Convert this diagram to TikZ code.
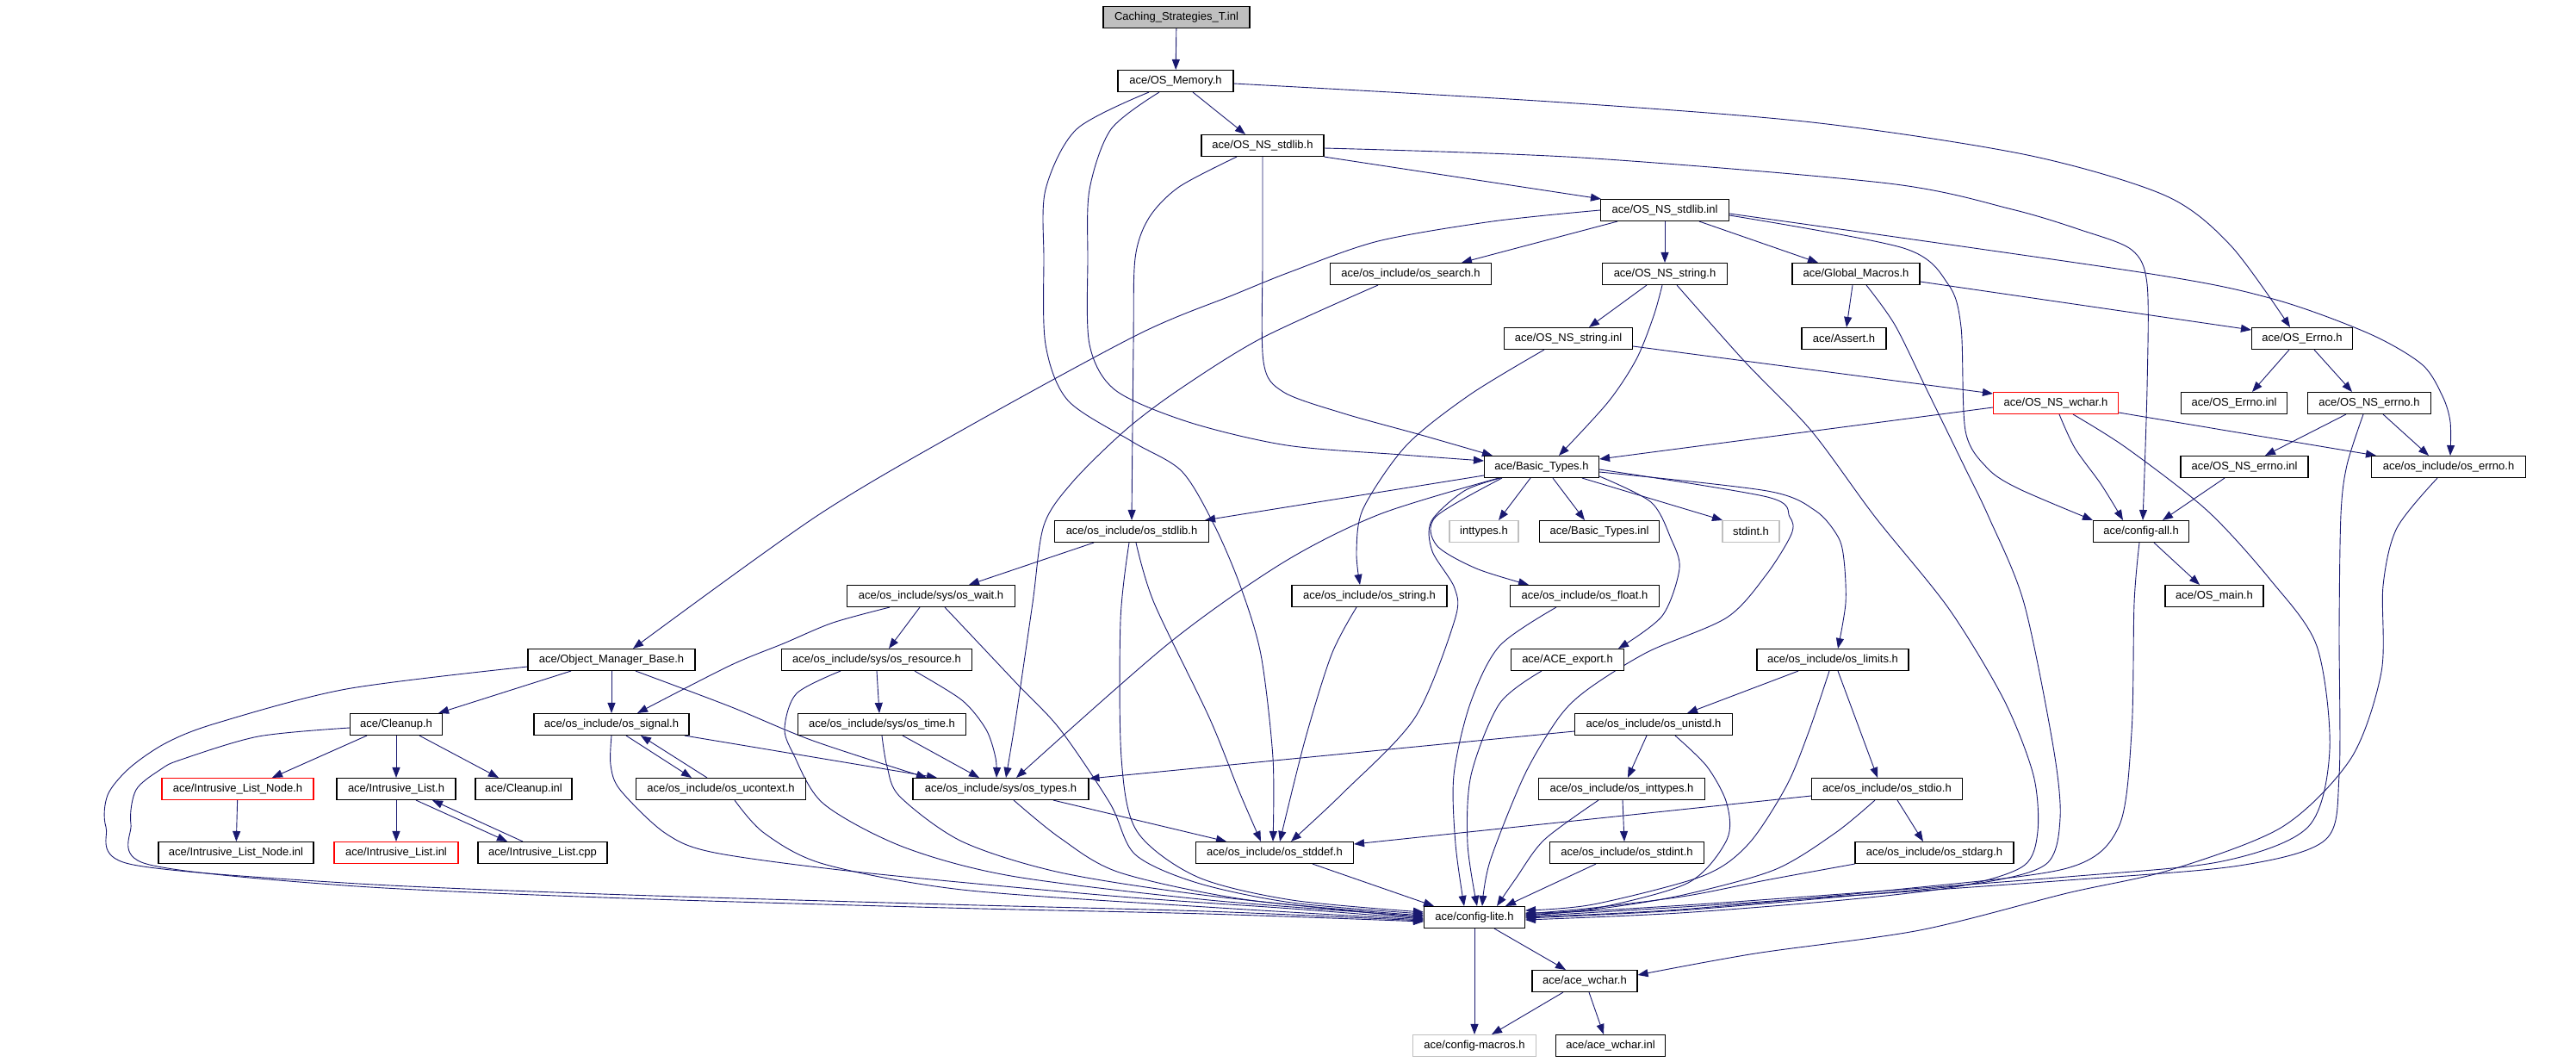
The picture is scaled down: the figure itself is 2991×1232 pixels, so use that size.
\documentclass[tikz,border=0pt]{standalone}
\usepackage{fontspec}
\setmainfont{Liberation Sans}
\usetikzlibrary{arrows.meta}
\definecolor{edgecol}{HTML}{191970}
\definecolor{boxgray}{HTML}{BFBFBF}
\pgfdeclarelayer{back}
\pgfdeclarelayer{lines}
\pgfsetlayers{back,lines,main}
\begin{document}
\begin{tikzpicture}[x=1pt,y=-1pt,
  box/.style={draw=black,fill=white,line width=1.1pt,minimum height=25pt,inner sep=0pt,font=\fontsize{13}{15}\selectfont,text=black},
  redbox/.style={box,draw=red},
  graynode/.style={box,draw=boxgray},
  rootbox/.style={box,fill=boxgray},
  conn/.style={draw=edgecol,line width=0.9pt,-{Triangle[length=12pt,width=9pt]}},
]
\begin{pgfonlayer}{back}
\fill[white] (0,0) rectangle (2991,1232);
\end{pgfonlayer}
\useasboundingbox (0,0) rectangle (2991,1232);

% ---------------- nodes
\node[rootbox,minimum width=170pt] (cach) at (1366,20) {Caching\_Strategies\_T.inl};
\node[box,minimum width=134pt] (mem) at (1365,94) {ace/OS\_Memory.h};
\node[box,minimum width=142pt] (nsstdlibh) at (1466,169) {ace/OS\_NS\_stdlib.h};
\node[box,minimum width=149pt] (nsstdlibinl) at (1933,244) {ace/OS\_NS\_stdlib.inl};
\node[box,minimum width=187pt] (search) at (1638,318) {ace/os\_include/os\_search.h};
\node[box,minimum width=145pt] (nsstringh) at (1933,318) {ace/OS\_NS\_string.h};
\node[box,minimum width=148pt] (glob) at (2155,318) {ace/Global\_Macros.h};
\node[box,minimum width=149pt] (nsstringinl) at (1821,393) {ace/OS\_NS\_string.inl};
\node[box,minimum width=98pt] (assert) at (2141,393) {ace/Assert.h};
\node[box,minimum width=117pt] (errnoh) at (2673,393) {ace/OS\_Errno.h};
\node[redbox,minimum width=145pt] (nswchar) at (2387,468) {ace/OS\_NS\_wchar.h};
\node[box,minimum width=123pt] (errnoinl) at (2594,468) {ace/OS\_Errno.inl};
\node[box,minimum width=143pt] (nserrnoh) at (2751,468) {ace/OS\_NS\_errno.h};
\node[box,minimum width=148pt] (nserrnoinl) at (2606,542) {ace/OS\_NS\_errno.inl};
\node[box,minimum width=179pt] (oserrno) at (2843,542) {ace/os\_include/os\_errno.h};
\node[box,minimum width=133pt] (basic) at (1790,542) {ace/Basic\_Types.h};
\node[box,minimum width=111pt] (configall) at (2486,617) {ace/config-all.h};
\node[box,minimum width=114pt] (osmain) at (2571,692) {ace/OS\_main.h};
\node[graynode,minimum width=80pt] (inttypes) at (1723,617) {inttypes.h};
\node[box,minimum width=139pt] (basicinl) at (1857,617) {ace/Basic\_Types.inl};
\node[graynode,minimum width=66pt] (stdint) at (2033,617) {stdint.h};
\node[box,minimum width=179pt] (osstdlib) at (1314,617) {ace/os\_include/os\_stdlib.h};
\node[box,minimum width=195pt] (wait) at (1081,692) {ace/os\_include/sys/os\_wait.h};
\node[box,minimum width=180pt] (osstring) at (1590,692) {ace/os\_include/os\_string.h};
\node[box,minimum width=173pt] (osfloat) at (1840,692) {ace/os\_include/os\_float.h};
\node[box,minimum width=194pt] (omb) at (710,766) {ace/Object\_Manager\_Base.h};
\node[box,minimum width=221pt] (resource) at (1018,766) {ace/os\_include/sys/os\_resource.h};
\node[box,minimum width=131pt] (export) at (1820,766) {ace/ACE\_export.h};
\node[box,minimum width=176pt] (limits) at (2128,766) {ace/os\_include/os\_limits.h};
\node[box,minimum width=107pt] (cleanup) at (460,841) {ace/Cleanup.h};
\node[box,minimum width=180pt] (signal) at (710,841) {ace/os\_include/os\_signal.h};
\node[box,minimum width=195pt] (ostime) at (1024,841) {ace/os\_include/sys/os\_time.h};
\node[box,minimum width=183pt] (unistd) at (1920,841) {ace/os\_include/os\_unistd.h};
\node[redbox,minimum width=176pt] (ilnodeh) at (276,916) {ace/Intrusive\_List\_Node.h};
\node[box,minimum width=138pt] (ilh) at (460,916) {ace/Intrusive\_List.h};
\node[box,minimum width=112pt] (cleanupinl) at (608,916) {ace/Cleanup.inl};
\node[box,minimum width=197pt] (ucontext) at (837,916) {ace/os\_include/os\_ucontext.h};
\node[box,minimum width=204pt] (types) at (1162,916) {ace/os\_include/sys/os\_types.h};
\node[box,minimum width=193pt] (inttypesos) at (1883,916) {ace/os\_include/os\_inttypes.h};
\node[box,minimum width=175pt] (stdio) at (2191,916) {ace/os\_include/os\_stdio.h};
\node[box,minimum width=180pt] (ilnodeinl) at (274,990) {ace/Intrusive\_List\_Node.inl};
\node[redbox,minimum width=144pt] (ilinl) at (460,990) {ace/Intrusive\_List.inl};
\node[box,minimum width=150pt] (ilcpp) at (630,990) {ace/Intrusive\_List.cpp};
\node[box,minimum width=183pt] (stddef) at (1480,990) {ace/os\_include/os\_stddef.h};
\node[box,minimum width=179pt] (stdintos) at (1889,990) {ace/os\_include/os\_stdint.h};
\node[box,minimum width=184pt] (stdarg) at (2246,990) {ace/os\_include/os\_stdarg.h};
\node[box,minimum width=117pt] (lite) at (1712,1065) {ace/config-lite.h};
\node[box,minimum width=122pt] (wchar) at (1840,1139) {ace/ace\_wchar.h};
\node[graynode,minimum width=143pt] (macros) at (1712,1214) {ace/config-macros.h};
\node[box,minimum width=127pt] (wcharinl) at (1870,1214) {ace/ace\_wchar.inl};

% ---------------- connectors
\begin{pgfonlayer}{lines}
\draw[conn] (cach) -- (mem);
\draw[conn] ([xshift=20pt]mem.south) -- ([xshift=-20pt]nsstdlibh.north);
\draw[conn] plot[smooth] coordinates {([yshift=-3pt]mem.east) (1800,118) (2104,142) (2354,180) (2514,227) (2590,285) ([xshift=-14pt]errnoh.north)};
\draw[conn] plot[smooth] coordinates {([xshift=-19pt]mem.south) (1290,150) (1265,220) (1263,300) (1265,400) (1295,453) (1380,490) (1494,517) (1628,528) ([yshift=7pt]basic.west)};
\draw[conn] plot[smooth] coordinates {([xshift=-31pt]mem.south) (1250,150) (1214,220) (1212,300) (1214,400) (1240,465) (1315,513) (1372,547) (1410,610) (1440,680) (1464,760) (1478,880) ([xshift=-2pt]stddef.north)};

\draw[conn] (nsstdlibh.south east) -- ([xshift=1pt]nsstdlibinl.north west);
\draw[conn] plot[smooth] coordinates {([yshift=-3pt]nsstdlibh.east) (1836,183) (2193,213) (2336,243) (2416,267) (2475,290) (2493,330) (2493,450) ([xshift=2pt]configall.north)};
\draw[conn] plot[smooth] coordinates {(nsstdlibh.south) (1466,300) (1467,420) (1490,455) (1560,480) (1650,505) ([xshift=-57pt]basic.north)};
\draw[conn] plot[smooth] coordinates {([xshift=-30pt]nsstdlibh.south) (1369,217) (1334,253) (1318,300) (1316,400) (osstdlib.north)};

\draw[conn] plot[smooth] coordinates {(nsstdlibinl.west) (1733,257) (1600,280) (1500,315) (1433,342) (1322,388) (1116,500) (947,600) ([xshift=25pt]omb.north)};
\draw[conn] ([xshift=-55pt]nsstdlibinl.south) -- ([xshift=59pt]search.north);
\draw[conn] (nsstdlibinl) -- (nsstringh);
\draw[conn] ([xshift=40pt]nsstdlibinl.south) -- ([xshift=-44pt]glob.north);
\draw[conn] plot[smooth] coordinates {([yshift=-6pt]nsstdlibinl.east) (2210,288) (2262,330) (2277,380) (2282,500) (2307,543) (2343,567) (configall.north west)};
\draw[conn] plot[smooth] coordinates {([yshift=-4pt]nsstdlibinl.east) (2491,317) (2639,347) (2750,387) (2812,423) (2836,460) (2845,490) ([xshift=2pt]oserrno.north)};

\draw[conn] ([xshift=-4pt]glob.south) -- ([xshift=3pt]assert.north);
\draw[conn] ([yshift=-9pt]glob.east) -- ([yshift=10pt]errnoh.west);
\draw[conn] plot[smooth] coordinates {([xshift=12pt]glob.south) (2200,377) (2236,450) (2280,540) (2309,600) (2350,700) (2384,867) (2392,950) (2376,1003) (2300,1025) (2150,1040) (1950,1057) ([yshift=-1pt]lite.east)};
\draw[conn] plot[smooth] coordinates {([xshift=14pt]nsstringh.south) (2026,420) (2103,500) (2177,600) (2263,707) (2327,813) (2361,900) (2366,965) (2350,1005) (2280,1028) (2150,1044) (1950,1060) ([yshift=-3pt]lite.east)};

\draw[conn] ([xshift=-15pt]errnoh.south) -- ([xshift=21pt]errnoinl.north);
\draw[conn] ([xshift=14pt]errnoh.south) -- ([xshift=-20pt]nserrnoh.north);
\draw[conn] ([xshift=-27pt]nserrnoh.south) -- ([xshift=24pt]nserrnoinl.north);
\draw[conn] ([xshift=16pt]nserrnoh.south) -- ([xshift=-23pt]oserrno.north);
\draw[conn] plot[smooth] coordinates {([xshift=-7pt]nserrnoh.south) (2725,540) (2718,597) (2716,730) (2716,900) (2700,975) (2600,1005) (2400,1022) (2000,1050) ([yshift=1pt]lite.east)};
\draw[conn] ([xshift=-23pt]nserrnoinl.south) -- ([xshift=25pt]configall.north);
\draw[conn] ([xshift=15pt]configall.south) -- ([xshift=-17pt]osmain.north);
\draw[conn] plot[smooth] coordinates {([xshift=-2pt]configall.south) (2478,700) (2475,850) (2460,960) (2400,1008) (2200,1033) (1950,1056) ([yshift=0pt]lite.east)};

\draw[conn] ([yshift=-5pt]nswchar.west) -- ([yshift=9pt]basic.east);
\draw[conn] ([yshift=-9pt]nsstringinl.east) -- ([yshift=11pt]nswchar.west);
\draw[conn] plot[smooth] coordinates {([xshift=4pt]nswchar.south) (2409,520) (2440,563) ([xshift=-21pt]configall.north)};
\draw[conn] ([yshift=-11pt]nswchar.east) -- ([xshift=-84pt]oserrno.north);
\draw[conn] plot[smooth] coordinates {([xshift=20pt]nswchar.south) (2469,520) (2563,593) (2636,673) (2690,750) (2705,870) (2680,960) (2580,1000) (2400,1018) (2000,1048) ([yshift=3pt]lite.east)};
\draw[conn] plot[smooth] coordinates {([xshift=-13pt]oserrno.south) (2783,613) (2767,680) (2765,780) (2730,880) (2650,960) (2520,1010) (2400,1037) (2229,1080) (2038,1107) ([yshift=7pt]wchar.east)};

\draw[conn] ([xshift=-13pt]basic.south) -- ([xshift=17pt]inttypes.north);
\draw[conn] ([xshift=13pt]basic.south) -- ([xshift=-17pt]basicinl.north);
\draw[conn] ([xshift=47pt]basic.south) -- ([xshift=-33pt]stdint.north);
\draw[conn] ([yshift=-10pt]basic.west) -- ([xshift=-5pt]osstdlib.north east);
\draw[conn] plot[smooth] coordinates {([xshift=-50pt]basic.south) (1602,597) (1490,653) (1357,747) ([xshift=18pt]types.north)};
\draw[conn] plot[smooth] coordinates {([xshift=-48pt]basic.south) (1700,570) (1662,605) (1663,640) (1689,683) (1689,720) (1643,833) (1560,920) ([xshift=19pt]stddef.north)};
\draw[conn] plot[smooth] coordinates {([xshift=-46pt]basic.south) (1667,600) (1668,633) (1714,660) ([xshift=-65pt]osfloat.north)};
\draw[conn] plot[smooth] coordinates {([yshift=-11pt]basic.east) (1917,583) (1940,625) (1950,660) (1930,715) ([xshift=59pt]export.north)};
\draw[conn] plot[smooth] coordinates {([yshift=-6pt]basic.east) (2052,570) (2108,593) (2134,623) (2141,650) (2143,700) ([xshift=6pt]limits.north)};
\draw[conn] plot[smooth] coordinates {([yshift=-3pt]basic.east) (2052,577) (2078,600) (2080,620) (2051,667) (2005,717) (1913,757) (1844,800) (1810,833) (1770,900) (1730,1000) ([xshift=9pt]lite.north)};

\draw[conn] ([xshift=-44pt]osstdlib.south) -- ([xshift=44pt]wait.north);
\draw[conn] plot[smooth] coordinates {([xshift=5pt]osstdlib.south) (1340,700) (1404,833) (1438,917) ([xshift=-16pt]stddef.north)};
\draw[conn] plot[smooth] coordinates {([xshift=-3pt]osstdlib.south) (1301,720) (1302,880) (1320,965) (1390,1018) (1500,1045) ([yshift=6pt]lite.west)};

\draw[conn] ([xshift=-13pt]wait.south) -- ([xshift=14pt]resource.north);
\draw[conn] plot[smooth] coordinates {([xshift=-48pt]wait.south) (967,723) (910,747) (847,773) ([xshift=30pt]signal.north)};
\draw[conn] plot[smooth] coordinates {([xshift=16pt]wait.south) (1180,793) (1231,847) (1289,933) (1318,992) (1390,1025) (1500,1048) ([yshift=4pt]lite.west)};

\draw[conn] (resource.south) -- ([xshift=-3pt]ostime.north);
\draw[conn] plot[smooth] coordinates {([xshift=44pt]resource.south) (1117,813) (1145,847) (1156,880) ([xshift=-5pt]types.north)};
\draw[conn] plot[smooth] coordinates {([xshift=-42pt]resource.south) (925,805) (911,845) (921,875) (956,933) (1048,983) (1174,1017) (1404,1045) ([yshift=1pt]lite.west)};

\draw[conn] ([xshift=24pt]ostime.south) -- ([xshift=-25pt]types.north);
\draw[conn] plot[smooth] coordinates {(ostime.south) (1030,890) (1045,925) (1117,977) (1231,1013) (1404,1040) ([yshift=-1pt]lite.west)};

\draw[conn] ([xshift=61pt]types.south) -- ([xshift=-56pt]stddef.north);
\draw[conn] plot[smooth] coordinates {([xshift=15pt]types.south) (1231,973) (1300,1013) (1450,1045) ([yshift=2pt]lite.west)};

\draw[conn] ([xshift=17pt]signal.south) -- ([xshift=-34pt]ucontext.north);
\draw[conn] ([xshift=-16pt]ucontext.north) -- ([xshift=34pt]signal.south);
\draw[conn] ([xshift=85pt]signal.south) -- ([xshift=-74pt]types.north);
\draw[conn] plot[smooth] coordinates {(signal.south) (709,888) (720,917) (772,967) (830,990) (1002,1013) (1289,1040) (1500,1055) ([yshift=-2pt]lite.west)};
\draw[conn] plot[smooth] coordinates {([xshift=16pt]ucontext.south) (887,967) (956,1003) (1117,1033) (1400,1053) ([yshift=-3pt]lite.west)};

\draw[conn] ([xshift=-47pt]omb.south) -- ([xshift=-5pt]cleanup.north east);
\draw[conn] (omb) -- (signal);
\draw[conn] plot[smooth] coordinates {([xshift=28pt]omb.south) (847,820) (944,860) ([xshift=-86pt]types.north)};
\draw[conn] plot[smooth] coordinates {([yshift=-8pt]omb.west) (402,800) (250,840) (192,863) (150,892) (125,923) (123,960) (150,1003) (400,1025) (700,1038) (1100,1050) (1400,1058) ([yshift=-4pt]lite.west)};
\draw[conn] plot[smooth] coordinates {([yshift=-4pt]cleanup.west) (300,855) (210,882) (187,893) (158,917) (152,957) (170,1003) (400,1028) (700,1042) (1100,1054) (1400,1061) ([yshift=-5pt]lite.west)};

\draw[conn] ([xshift=-34pt]cleanup.south) -- ([xshift=40pt]ilnodeh.north);
\draw[conn] (cleanup) -- (ilh);
\draw[conn] ([xshift=27pt]cleanup.south) -- ([xshift=-29pt]cleanupinl.north);
\draw[conn] (ilnodeh) -- (ilnodeinl);
\draw[conn] (ilh) -- (ilinl);
\draw[conn] ([xshift=23pt]ilh.south) -- ([xshift=-41pt]ilcpp.north);
\draw[conn] ([xshift=-23pt]ilcpp.north) -- ([xshift=42pt]ilh.south);

\draw[conn] plot[smooth] coordinates {([xshift=-38pt]search.south) (1464,393) (1368,453) (1306,500) (1245,560) (1212,610) (1199,700) (1180,830) ([xshift=6pt]types.north)};

\draw[conn] ([xshift=-21pt]nsstringh.south) -- ([xshift=24pt]nsstringinl.north);
\draw[conn] plot[smooth] coordinates {([xshift=-3pt]nsstringh.south) (1920,367) (1900,417) (1867,467) ([xshift=20pt]basic.north)};
\draw[conn] plot[smooth] coordinates {([xshift=-28pt]nsstringinl.south) (1707,458) (1633,517) (1583,590) (1575,640) ([xshift=-11pt]osstring.north)};
\draw[conn] plot[smooth] coordinates {([xshift=-15pt]osstring.south) (1546,760) (1515,860) ([xshift=6pt]stddef.north)};

\draw[conn] plot[smooth] coordinates {([xshift=-33pt]osfloat.south) (1741,750) (1707,817) (1688,900) (1690,980) ([xshift=-12pt]lite.north)};
\draw[conn] plot[smooth] coordinates {([xshift=-30pt]export.south) (1741,817) (1708,900) (1704,980) ([xshift=3pt]lite.north)};

\draw[conn] ([xshift=-40pt]limits.south) -- ([xshift=39pt]unistd.north);
\draw[conn] ([xshift=6pt]limits.south) -- ([xshift=-11pt]stdio.north);
\draw[conn] plot[smooth] coordinates {([xshift=-4pt]limits.south) (2100,850) (2074,913) (2030,980) (1977,1017) (1850,1050) ([yshift=8pt]lite.east)};

\draw[conn] ([yshift=-8pt]unistd.west) -- ([yshift=12pt]types.east);
\draw[conn] ([xshift=-8pt]unistd.south) -- ([xshift=7pt]inttypesos.north);
\draw[conn] plot[smooth] coordinates {([xshift=25pt]unistd.south) (1982,890) (2005,933) (2005,975) (1960,1025) (1850,1055) ([yshift=5pt]lite.east)};

\draw[conn] ([xshift=1pt]inttypesos.south) -- ([xshift=-3pt]stdintos.north);
\draw[conn] plot[smooth] coordinates {([xshift=-27pt]inttypesos.south) (1793,975) (1760,1020) ([xshift=26pt]lite.north)};
\draw[conn] ([xshift=-36pt]stdintos.south) -- ([xshift=36pt]lite.north);
\draw[conn] ([xshift=44pt]stddef.south) -- ([xshift=-47pt]lite.north);
\draw[conn] ([yshift=-8pt]stdio.west) -- ([yshift=10pt]stddef.east);
\draw[conn] ([xshift=12pt]stdio.south) -- ([xshift=-13pt]stdarg.north);
\draw[conn] plot[smooth] coordinates {([xshift=-14pt]stdio.south) (2131,967) (2060,1010) (1950,1040) (1850,1056) ([yshift=2pt]lite.east)};
\draw[conn] plot[smooth] coordinates {(stdarg.south west) (2050,1022) (1959,1040) (1850,1054) ([yshift=4pt]lite.east)};

\draw[conn] (lite) -- (macros);
\draw[conn] ([xshift=23pt]lite.south) -- ([xshift=-22pt]wchar.north);
\draw[conn] ([xshift=-25pt]wchar.south) -- ([xshift=20pt]macros.north);
\draw[conn] ([xshift=5pt]wchar.south) -- ([xshift=-8pt]wcharinl.north);
\end{pgfonlayer}
\end{tikzpicture}
\end{document}
